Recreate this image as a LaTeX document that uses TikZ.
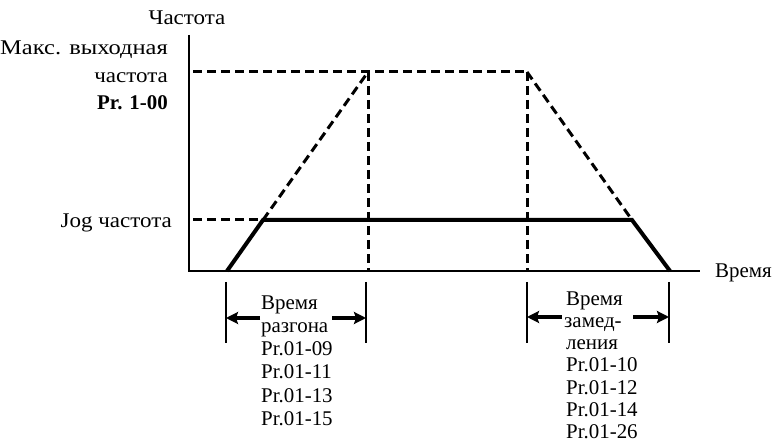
\documentclass[tikz,border=0pt]{standalone}
\usepackage{fontspec}
\setmainfont{Liberation Serif}
\newfontfamily\cyrwide{Liberation Serif}[FakeStretch=1.1]
\newfontfamily\cyrwider{Liberation Serif}[FakeStretch=1.17]
\usetikzlibrary{arrows.meta}
\begin{document}
\begin{tikzpicture}[x=1bp,y=-1bp,
  lbl/.style={font=\fontsize{21}{22}\selectfont, inner sep=0pt},
  cyr/.style={font=\fontsize{21}{22}\selectfont\cyrwide, inner sep=0pt},
  axis/.style={line width=2.4bp},
  guide/.style={line width=3bp, dash pattern=on 9bp off 5bp},
  ramp/.style={line width=4bp},
  bar/.style={line width=2.4bp},
  dimarrow/.style={line width=4bp, -{Stealth[length=12bp,width=12bp,inset=2bp]}}]
\useasboundingbox (0,0) rectangle (779,445);
% key coordinates
\coordinate (top) at (189,35);
\coordinate (O) at (189,271);
\coordinate (xend) at (700,271);
\coordinate (fmaxL) at (193,72);
\coordinate (A) at (368,72);
\coordinate (B) at (527,72);
\coordinate (A0) at (368,271);
\coordinate (B0) at (527,271);
\coordinate (jogL) at (193,220);
\coordinate (J1) at (263,220);
\coordinate (J2) at (632,220);
\coordinate (S) at (227,271);
\coordinate (E) at (670,271);
% axes
\draw[axis] (top) -- (O) -- (xend);
% dashed guides
\draw[guide] (fmaxL) -- (B);
\draw[guide] (A) -- (A0);
\draw[guide] (B) -- (B0);
\draw[guide] (jogL) -- (J1);
\draw[guide] (J1) -- (A);
\draw[guide] (B) -- (J2);
% solid jog profile
\draw[ramp, line join=miter] (S) -- (J1) -- (J2) -- (E);
% labels
\node[cyr, anchor=base] (yl) at (187,25) {Частота};
\node[cyr, anchor=base east, font=\fontsize{21}{22}\selectfont\cyrwider] (fm1) at (168,55) {Макс. выходная};
\node[cyr, anchor=base east] (fm2) at (168,83) {частота};
\node[lbl, anchor=base east, font=\fontsize{21}{22}\selectfont\bfseries] (fm3) at (168,110) {Pr. 1-00};
\node[cyr, anchor=base east] (jl) at (172,228) {Jog частота};
\node[lbl, anchor=base west] (xl) at (715,278) {Время};
% acceleration dimension
\coordinate (a1t) at (226,282); \coordinate (a1b) at (226,343);
\coordinate (a2t) at (366,282); \coordinate (a2b) at (366,343);
\draw[bar] (a1t) -- (a1b);
\draw[bar] (a2t) -- (a2b);
\node[lbl, anchor=base west] (acc1) at (261,310) {Время};
\node[lbl, anchor=base west] (acc2) at (261,333) {разгона};
\node[lbl, anchor=base west] (acc3) at (261,356) {Pr.01-09};
\node[lbl, anchor=base west] (acc4) at (261,379) {Pr.01-11};
\node[lbl, anchor=base west] (acc5) at (261,402) {Pr.01-13};
\node[lbl, anchor=base west] (acc6) at (261,425) {Pr.01-15};
\coordinate (aL0) at (260,318); \coordinate (aL1) at (226,318);
\coordinate (aR0) at (332,318); \coordinate (aR1) at (366,318);
\draw[dimarrow] (aL0) -- (aL1);
\draw[dimarrow] (aR0) -- (aR1);
% deceleration dimension
\coordinate (d1t) at (527,282); \coordinate (d1b) at (527,343);
\coordinate (d2t) at (669,282); \coordinate (d2b) at (669,343);
\draw[bar] (d1t) -- (d1b);
\draw[bar] (d2t) -- (d2b);
\node[lbl, anchor=base west] (dec1) at (566,306) {Время};
\node[lbl, anchor=base west] (dec2) at (564,328) {замед-};
\node[lbl, anchor=base west] (dec3) at (566,350) {ления};
\node[lbl, anchor=base west] (dec4) at (566,372) {Pr.01-10};
\node[lbl, anchor=base west] (dec5) at (566,394) {Pr.01-12};
\node[lbl, anchor=base west] (dec6) at (566,416) {Pr.01-14};
\node[lbl, anchor=base west] (dec7) at (566,438) {Pr.01-26};
\coordinate (dL0) at (562,317); \coordinate (dL1) at (527,317);
\coordinate (dR0) at (633,317); \coordinate (dR1) at (669,317);
\draw[dimarrow] (dL0) -- (dL1);
\draw[dimarrow] (dR0) -- (dR1);
\end{tikzpicture}
\end{document}
